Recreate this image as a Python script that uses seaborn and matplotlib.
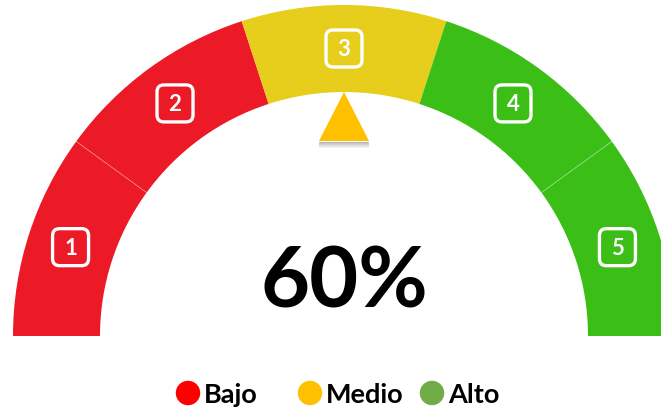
import numpy as np
import matplotlib
matplotlib.use("Agg")
import matplotlib.pyplot as plt
from matplotlib.patches import Wedge, FancyBboxPatch, Polygon
import seaborn as sns
import pandas as pd

# ---- data ----
segment_labels = ["1", "2", "3", "4", "5"]
segment_shares = [1, 1, 1, 1, 1]
segment_levels = ["Bajo", "Bajo", "Medio", "Alto", "Alto"]
level_names = ["Bajo", "Medio", "Alto"]
value_text = "60%"
pointer_segment = "3"

arc_colors = {"Bajo": "#EC1A26", "Medio": "#E7CD1C", "Alto": "#3BBF17"}
legend_colors = {"Bajo": "#FF0000", "Medio": "#FFC000", "Alto": "#70AD47"}
pointer_color = "#FFC000"

sns.set_theme(style="white")
plt.rcParams["font.family"] = ["Lato", "DejaVu Sans"]

W, H = 661, 410
fig = plt.figure(figsize=(W / 100, H / 100), dpi=100)
ax = fig.add_axes([0, 0, 1, 1])
ax.set_xlim(0, W)
ax.set_ylim(0, H)
ax.set_aspect("equal")
ax.axis("off")

cx, cy = 344, H - 337
r_out, r_in = 331, 244
r_mid = (r_out + r_in) / 2
total = sum(segment_shares)
edges = 180 - 180 * np.cumsum([0] + segment_shares) / total

mids = {}
for i, (lab, lvl) in enumerate(zip(segment_labels, segment_levels)):
    t1, t2 = edges[i + 1], edges[i]
    ax.add_patch(Wedge((cx, cy), r_out, t1, t2, width=r_out - r_in,
                       facecolor=arc_colors[lvl], edgecolor="none", zorder=1))
    mid = np.deg2rad((t1 + t2) / 2)
    mids[lab] = mid
    bx, by = cx + r_mid * np.cos(mid), cy + r_mid * np.sin(mid)
    ax.add_patch(FancyBboxPatch((bx - 14, by - 14.5), 28, 29,
                                boxstyle="round,pad=4,rounding_size=7",
                                facecolor="none", edgecolor="white",
                                linewidth=2.4, zorder=3))
    ax.text(bx, by - 0.5, lab, color="white", fontsize=16, fontweight="bold",
            ha="center", va="center", zorder=4)

# thin separators between same-colour segments
for i in range(1, len(segment_labels)):
    if segment_levels[i - 1] == segment_levels[i]:
        a = np.deg2rad(edges[i])
        ax.plot([cx + r_in * np.cos(a), cx + r_out * np.cos(a)],
                [cy + r_in * np.sin(a), cy + r_out * np.sin(a)],
                color="white", alpha=0.35, lw=0.6, zorder=2)

# pointer
a = mids[pointer_segment]
u = np.array([np.cos(a), np.sin(a)])
p = np.array([-np.sin(a), np.cos(a)])
c = np.array([cx, cy])
apex = c + r_in * u
base = c + (r_in - 49) * u
for k in range(6):
    off = base - (1 + k) * u
    ax.add_patch(Polygon([off - 25 * p, off + 25 * p, off + 25 * p - 1.2 * u,
                          off - 25 * p - 1.2 * u],
                         closed=True, facecolor="#555555",
                         alpha=0.4 * (1 - k / 6), edgecolor="none", zorder=4))
ax.add_patch(Polygon([apex, base - 25 * p, base + 25 * p], closed=True,
                     facecolor=pointer_color, edgecolor="none", zorder=5))

# central value
ax.text(cx, H - 308, value_text, fontsize=61, fontweight="bold",
        color="black", ha="center", va="baseline", zorder=6)

# legend
leg_x = [188, 310, 432]
leg_df = pd.DataFrame({"x": leg_x, "y": [H - 394] * 3, "level": level_names})
sns.scatterplot(data=leg_df, x="x", y="y", hue="level", palette=legend_colors,
                s=310, linewidth=0, legend=False, ax=ax, zorder=6)
for x, name in zip(leg_x, level_names):
    ax.text(x + 16, H - 403, name, fontsize=19.5, fontweight="bold",
            color="black", ha="left", va="baseline", zorder=6)
ax.set_xlim(0, W)
ax.set_ylim(0, H)
ax.set_xlabel("")
ax.set_ylabel("")

fig.savefig("out.png", dpi=100, facecolor="white")
